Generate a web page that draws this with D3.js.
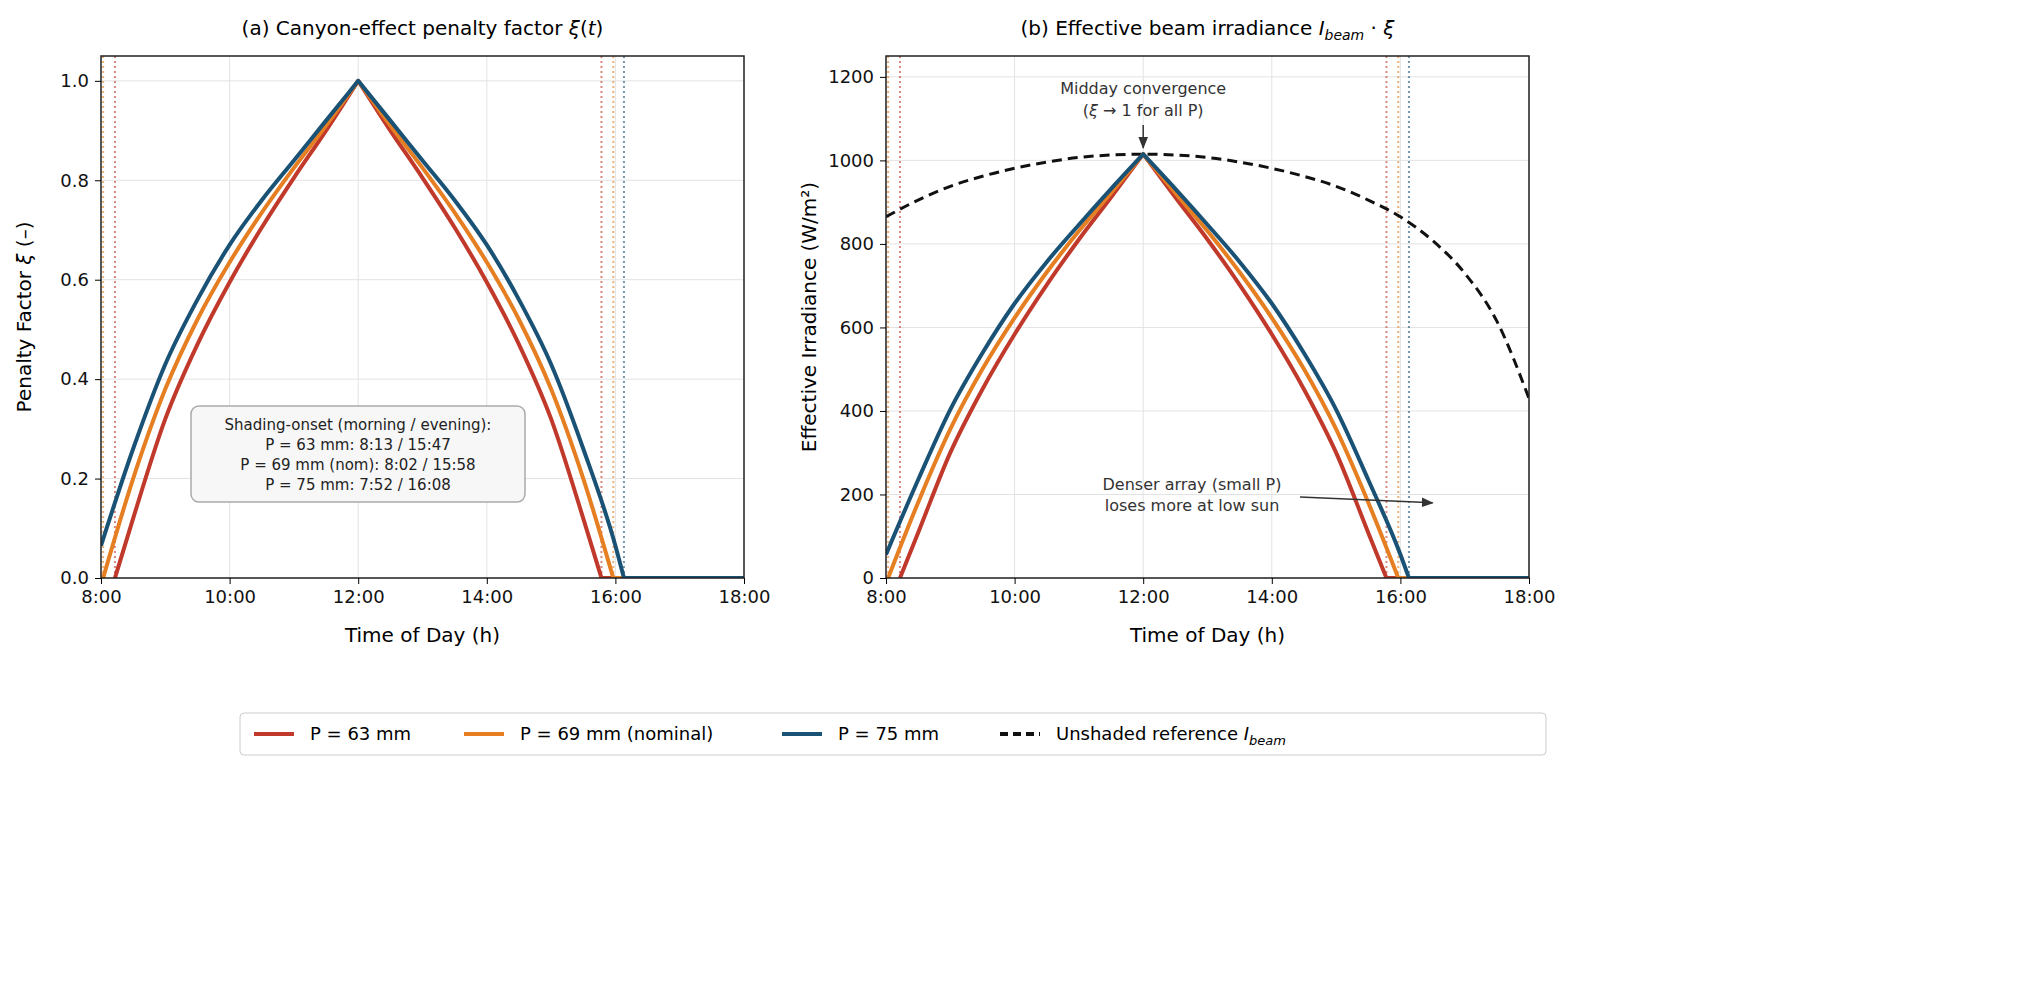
<!DOCTYPE html>
<html><head><meta charset="utf-8">
<script src="https://cdn.jsdelivr.net/npm/d3@7"></script>
<style>body{margin:0;background:#fff;font-family:"DejaVu Sans",sans-serif}</style>
</head><body>
<div id="chart"></div>
<script>
// series: time of day (h) and penalty factor xi
const seriesNames = ['P = 63 mm', 'P = 69 mm (nominal)', 'P = 75 mm'];
const seriesColors = ['#c0392b', '#e67e22', '#1a5276'];
const times63 = [8.217, 8.5, 9, 9.5, 10, 10.5, 11, 11.5, 12, 12.5, 13, 13.5, 14, 14.5, 15, 15.5, 15.783, 18];
const xi63 = [0, 0.12, 0.32, 0.47, 0.595, 0.705, 0.805, 0.90, 1, 0.90, 0.805, 0.705, 0.595, 0.47, 0.32, 0.12, 0, 0];
const times69 = [8.033, 8.5, 9, 9.5, 10, 10.5, 11, 11.5, 12, 12.5, 13, 13.5, 14, 14.5, 15, 15.5, 15.967, 18];
const xi69 = [0, 0.20, 0.38, 0.52, 0.635, 0.735, 0.825, 0.91, 1, 0.91, 0.825, 0.735, 0.635, 0.52, 0.38, 0.20, 0, 0];
const times75 = [8, 8.5, 9, 9.5, 10, 10.5, 11, 11.5, 12, 12.5, 13, 13.5, 14, 14.5, 15, 15.5, 16, 16.133, 18];
const xi75 = [0.065, 0.26, 0.43, 0.56, 0.67, 0.76, 0.84, 0.92, 1, 0.92, 0.84, 0.76, 0.67, 0.56, 0.43, 0.26, 0.065, 0, 0];
// shading onset times (h)
const onsetMorning = [8.217, 8.033, 7.867];
const onsetEvening = [15.783, 15.967, 16.133];
// unshaded beam irradiance (W/m2)
const beamTimes = [8, 8.5, 9, 9.5, 10, 10.5, 11, 11.5, 12, 12.5, 13, 13.5, 14, 14.5, 15, 15.5, 16, 16.5, 17, 17.5, 18];
const beamValues = [865, 905, 938, 962, 981, 996, 1007, 1013, 1015, 1013, 1007, 996, 981, 962, 938, 905, 865, 808, 730, 615, 430];
const xTicks = [8, 10, 12, 14, 16, 18];
const xiTicks = [0, 0.2, 0.4, 0.6, 0.8, 1.0];
const irrTicks = [0, 200, 400, 600, 800, 1000, 1200];

const series = [
  {t: times63, v: xi63}, {t: times69, v: xi69}, {t: times75, v: xi75}
].map((s, i) => ({name: seriesNames[i], color: seriesColors[i], pts: s.t.map((t, j) => ({t, v: s.v[j]}))}));
const beamAt = d3.scaleLinear().domain(beamTimes).range(beamValues);

const W = 2028, H = 991;
const svg = d3.select('#chart').append('svg').attr('width', W).attr('height', H);
const fmt = h => h + ':00';

function panel(left, yDomain, yTicks, yFmt, title, ylabel, valueOf, beam) {
  const x = d3.scaleLinear().domain([8, 18]).range([left, left + 643]);
  const y = d3.scaleLinear().domain(yDomain).range([578, 56]);
  const g = svg.append('g');
  // grid
  g.selectAll('.gx').data(xTicks).enter().append('line')
    .attr('x1', d => x(d)).attr('x2', d => x(d)).attr('y1', 56).attr('y2', 578)
    .attr('stroke', '#e3e3e3').attr('stroke-width', 1);
  g.selectAll('.gy').data(yTicks).enter().append('line')
    .attr('x1', x(8)).attr('x2', x(18)).attr('y1', d => y(d)).attr('y2', d => y(d))
    .attr('stroke', '#e3e3e3').attr('stroke-width', 1);
  const clip = 'clip' + left;
  g.append('clipPath').attr('id', clip).append('rect')
    .attr('x', x(8)).attr('y', 56).attr('width', 643).attr('height', 522);
  const c = g.append('g').attr('clip-path', 'url(#' + clip + ')');
  // onset lines
  series.forEach((s, i) => {
    [onsetMorning[i], onsetEvening[i]].forEach(t => {
      c.append('line').attr('x1', x(t)).attr('x2', x(t)).attr('y1', 56).attr('y2', 578)
        .attr('stroke', s.color).attr('stroke-width', 2).attr('stroke-dasharray', '2,3').attr('opacity', 0.6);
    });
  });
  if (beam) {
    c.append('path').datum(beamTimes.map((t, j) => ({t, v: beamValues[j]})))
      .attr('fill', 'none').attr('stroke', '#111').attr('stroke-width', 3).attr('stroke-dasharray', '10,6')
      .attr('d', d3.line().x(d => x(d.t)).y(d => y(d.v)).curve(d3.curveMonotoneX));
  }
  const ln = d3.line().x(d => x(d.t)).y(d => y(valueOf(d))).curve(d3.curveMonotoneX);
  series.forEach(s => {
    const morning = s.pts.filter(d => d.t <= 12);
    const evening = s.pts.filter(d => d.t >= 12);
    const evFall = evening.slice(0, -1);
    const tail = evening.slice(-2);
    c.append('path').attr('fill', 'none').attr('stroke', s.color).attr('stroke-width', 4)
      .attr('stroke-linejoin', 'round')
      .attr('d', ln(morning) + ln(evFall).replace(/^M/, 'L') + 'L' + x(tail[1].t) + ',' + y(valueOf(tail[1])));
  });
  g.append('rect').attr('x', x(8)).attr('y', 56).attr('width', 643).attr('height', 522)
    .attr('fill', 'none').attr('stroke', '#222').attr('stroke-width', 1.5);
  g.append('g').attr('transform', 'translate(0,578)')
    .call(d3.axisBottom(x).tickValues(xTicks).tickFormat(fmt).tickSize(6).tickPadding(6))
    .call(a => a.select('.domain').remove())
    .selectAll('text').attr('font-size', 18).attr('fill', '#111').attr('font-family', 'DejaVu Sans');
  g.append('g').attr('transform', 'translate(' + x(8) + ',0)')
    .call(d3.axisLeft(y).tickValues(yTicks).tickFormat(yFmt).tickSize(6).tickPadding(6))
    .call(a => a.select('.domain').remove())
    .selectAll('text').attr('font-size', 18).attr('fill', '#111').attr('font-family', 'DejaVu Sans');
  g.append('text').attr('x', x(13)).attr('y', 35).attr('text-anchor', 'middle').attr('font-size', 20).html(title);
  g.append('text').attr('x', x(13)).attr('y', 642).attr('text-anchor', 'middle').attr('font-size', 20).text('Time of Day (h)');
  g.append('text').attr('transform', 'translate(' + (left - 70) + ',317) rotate(-90)')
    .attr('text-anchor', 'middle').attr('font-size', 20).html(ylabel);
  return {x, y, g};
}

const pa = panel(101, [0, 1.05], xiTicks, d3.format('.1f'),
  '(a) Canyon-effect penalty factor <tspan font-style="italic">ξ</tspan>(<tspan font-style="italic">t</tspan>)',
  'Penalty Factor <tspan font-style="italic">ξ</tspan> (–)', d => d.v, false);
const pb = panel(886, [0, 1250], irrTicks, d3.format('d'),
  '(b) Effective beam irradiance <tspan font-style="italic">I</tspan><tspan font-style="italic" font-size="14" dy="5">beam</tspan><tspan dy="-5"> · </tspan><tspan font-style="italic">ξ</tspan>',
  'Effective Irradiance (W/m²)', d => d.v * beamAt(Math.min(d.t, 18)), true);

// annotation box (a)
pa.g.append('rect').attr('x', 191).attr('y', 406).attr('width', 334).attr('height', 96).attr('rx', 8)
  .attr('fill', '#f7f7f7').attr('stroke', '#aaa').attr('stroke-width', 1.5);
['Shading-onset (morning / evening):', 'P = 63 mm: 8:13 / 15:47', 'P = 69 mm (nom): 8:02 / 15:58', 'P = 75 mm: 7:52 / 16:08']
  .forEach((t, i) => pa.g.append('text').attr('x', 358).attr('y', 430 + i * 20).attr('text-anchor', 'middle')
    .attr('font-size', 15).attr('fill', '#222').text(t));

// annotations (b)
const defs = svg.append('defs');
defs.append('marker').attr('id', 'arr').attr('viewBox', '0 0 10 10').attr('refX', 9).attr('refY', 5)
  .attr('markerWidth', 8).attr('markerHeight', 8).attr('orient', 'auto')
  .append('path').attr('d', 'M0,1 L10,5 L0,9 Z').attr('fill', '#333');
const xb = pb.x, yb = pb.y;
pb.g.append('text').attr('x', xb(12)).attr('y', 94).attr('text-anchor', 'middle').attr('font-size', 16).attr('fill', '#333').text('Midday convergence');
pb.g.append('text').attr('x', xb(12)).attr('y', 116).attr('text-anchor', 'middle').attr('font-size', 16).attr('fill', '#333')
  .html('(<tspan font-style="italic">ξ</tspan> → 1 for all P)');
pb.g.append('line').attr('x1', xb(12)).attr('y1', 125).attr('x2', xb(12)).attr('y2', yb(1030))
  .attr('stroke', '#333').attr('stroke-width', 1.5).attr('marker-end', 'url(#arr)');
pb.g.append('text').attr('x', 1192).attr('y', 490).attr('text-anchor', 'middle').attr('font-size', 16).attr('fill', '#333').text('Denser array (small P)');
pb.g.append('text').attr('x', 1192).attr('y', 511).attr('text-anchor', 'middle').attr('font-size', 16).attr('fill', '#333').text('loses more at low sun');
pb.g.append('line').attr('x1', 1300).attr('y1', 497).attr('x2', xb(16.5)).attr('y2', yb(180))
  .attr('stroke', '#333').attr('stroke-width', 1.5).attr('marker-end', 'url(#arr)');

// legend
const lg = svg.append('g');
lg.append('rect').attr('x', 240).attr('y', 713).attr('width', 1306).attr('height', 42).attr('rx', 4)
  .attr('fill', '#fff').attr('stroke', '#ccc');
const items = series.map(s => ({name: s.name, color: s.color, dash: null}))
  .concat([{name: 'Unshaded reference <tspan font-style="italic">I</tspan><tspan font-style="italic" font-size="13" dy="5">beam</tspan>', color: '#111', dash: '8,5'}]);
const lx = [254, 464, 782, 1000];
items.forEach((d, i) => {
  lg.append('line').attr('x1', lx[i]).attr('x2', lx[i] + 40).attr('y1', 734).attr('y2', 734)
    .attr('stroke', d.color).attr('stroke-width', 4).attr('stroke-dasharray', d.dash);
  lg.append('text').attr('x', lx[i] + 56).attr('y', 740).attr('font-size', 18).html(d.name);
});
</script>
</body></html>
